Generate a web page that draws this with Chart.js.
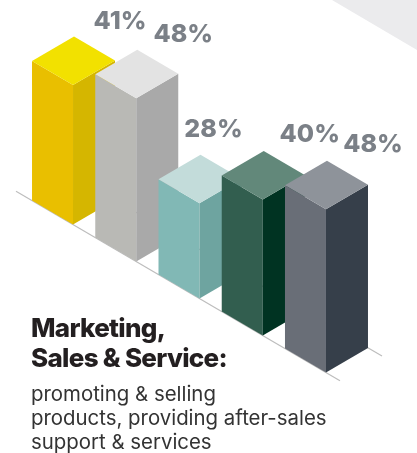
<!DOCTYPE html>
<html>
<head>
<meta charset="utf-8">
<script src="https://cdn.jsdelivr.net/npm/chart.js@4"></script>
<style>
  html, body { margin: 0; padding: 0; background: #fff; }
  #wrap { position: relative; width: 417px; height: 453px; overflow: hidden; }
  #wrap canvas { position: absolute; left: 0; top: 0; }
  #caption { position: absolute; left: 31px; top: 313px; color: #231f20; }
  #caption .head { font-family: Inter, Roboto, sans-serif; font-weight: 800; font-size: 26px; line-height: 30px; letter-spacing: -0.7px; }
  #caption .body { font-family: Inter, Roboto, sans-serif; font-weight: 400; font-size: 20.4px; line-height: 24px; color: #333; margin-top: 9px; }
</style>
</head>
<body>
<div id="wrap">
  <canvas id="isoChart" width="417" height="453"></canvas>
  <div id="caption">
    <div class="head">Marketing,<br>Sales &amp; Service:</div>
    <div class="body">promoting &amp; selling<br>products, providing after-sales<br>support &amp; services</div>
  </div>
</div>
<script>
const groups = ['Group 1', 'Group 2', 'Group 3', 'Group 4', 'Group 5'];
const shares = [41, 48, 28, 40, 48];

// face colours per bar: front, side, top
const frontColors = ['#e9bf00', '#b9b9b5', '#81b8b5', '#325e4f', '#696e77'];
const sideColors  = ['#d5b600', '#a9a9a9', '#6ea4a0', '#003322', '#363f4a'];
const topColors   = ['#f2e100', '#e3e3e3', '#c3dcda', '#62887a', '#8e939a'];

// value label nudges from the back corner of each top face
const labelShift = [[46, -8], [46, -8], [13, -18], [46, -9], [46, -9]];

const SLOPE = 0.585;      // isometric rise per px
const FRONT_W = 41;       // width of the left (front) face
const SIDE_W = 42;        // width of the right face
const BASE_Y = 224.5;     // y of the first bar's bottom front corner

function poly(ctx, pts, color) {
    ctx.beginPath();
    ctx.moveTo(pts[0][0], pts[0][1]);
    for (let i = 1; i < pts.length; i++) ctx.lineTo(pts[i][0], pts[i][1]);
    ctx.closePath();
    ctx.fillStyle = color;
    ctx.fill();
}

const isoBars = {
    id: 'isoBars',
    beforeDraw(chart) {
        const ctx = chart.ctx;
        // pale wedge in the top right corner
        poly(ctx, [[332, 0], [417, 0], [417, 50]], '#ebebed');
    },
    afterDatasetsDraw(chart) {
        const ctx = chart.ctx;
        const meta = chart.getDatasetMeta(0);
        const zero = chart.scales.y.getPixelForValue(0);
        const x0 = meta.data[0].x;
        const baseAt = x => BASE_Y + SLOPE * (x - x0);

        // floor lines
        ctx.save();
        ctx.strokeStyle = '#bdbdbd';
        ctx.lineWidth = 1.2;
        const first = meta.data[0].x, last = meta.data[meta.data.length - 1].x;
        ctx.beginPath();
        ctx.moveTo(first - 57, baseAt(first - 57));
        ctx.lineTo(last + 14, baseAt(last + 14));
        ctx.stroke();
        const backDy = -2 * SIDE_W * SLOPE;
        ctx.beginPath();
        ctx.moveTo(first + SIDE_W, baseAt(first + SIDE_W) + backDy);
        ctx.lineTo(last + SIDE_W + 14, baseAt(last + SIDE_W + 14) + backDy);
        ctx.stroke();
        ctx.restore();

        meta.data.forEach((el, i) => {
            const cx = el.x;
            const h = zero - el.y;
            const by = baseAt(cx);
            const ty = by - h;
            const fl = FRONT_W * SLOPE, sr = SIDE_W * SLOPE;
            poly(ctx, [[cx - FRONT_W, by - fl], [cx, by], [cx, ty], [cx - FRONT_W, ty - fl]], frontColors[i]);
            poly(ctx, [[cx, by], [cx + SIDE_W, by - sr], [cx + SIDE_W, ty - sr], [cx, ty]], sideColors[i]);
            poly(ctx, [[cx, ty], [cx - FRONT_W, ty - fl], [cx - FRONT_W + SIDE_W, ty - fl - sr], [cx + SIDE_W, ty - sr]], topColors[i]);

            const bx = cx - FRONT_W + SIDE_W, byTop = ty - fl - sr;
            ctx.save();
            ctx.font = '800 25px Inter, "Open Sans", sans-serif';
            ctx.fillStyle = '#7b8087';
            ctx.textAlign = 'center';
            ctx.textBaseline = 'alphabetic';
            ctx.fillText(shares[i] + '%', bx + labelShift[i][0], byTop + labelShift[i][1]);
            ctx.restore();
        });
    }
};

new Chart(document.getElementById('isoChart'), {
    type: 'bar',
    data: {
        labels: groups,
        datasets: [{ data: shares, backgroundColor: 'rgba(0,0,0,0)', borderWidth: 0 }]
    },
    options: {
        responsive: false,
        animation: false,
        layout: { padding: { left: 41.4, right: 59.4, top: 50, bottom: 63 } },
        scales: {
            x: { display: false },
            y: { display: false, min: 0, max: 100 }
        },
        plugins: { legend: { display: false }, tooltip: { enabled: false } }
    },
    plugins: [isoBars]
});
</script>
</body>
</html>
